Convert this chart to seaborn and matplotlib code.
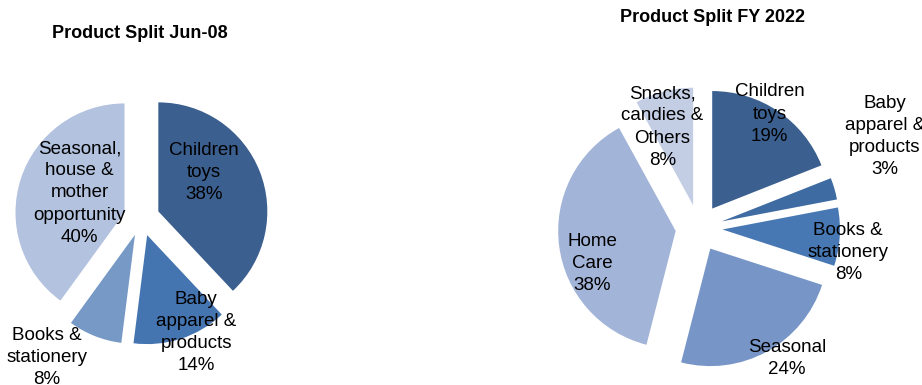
import seaborn as sns
import matplotlib.pyplot as plt

# Jun-08 split
left_cats = ['Children\ntoys', 'Baby\napparel &\nproducts', 'Books &\nstationery',
             'Seasonal,\nhouse &\nmother\nopportunity']
left_vals = [38, 14, 8, 40]
left_colors = ['#3b5f8f', '#4575b1', '#7799c6', '#b3c3df']

# FY 2022 split
right_cats = ['Children\ntoys', 'Baby\napparel &\nproducts', 'Books &\nstationery',
              'Seasonal', 'Home\nCare', 'Snacks,\ncandies &\nOthers']
right_vals = [19, 3, 8, 24, 38, 8]
right_colors = ['#3b5f8f', '#3f6ba3', '#4878b3', '#7796c7', '#a2b4d7', '#c3cde4']

# label offsets (in pie radius units) relative to pie centre
left_label_pos = [(0.57, 0.42), (0.50, -1.05), (-0.87, -1.28), (-0.57, 0.23)]
right_label_pos = [(0.60, 0.97), (1.58, 0.78), (1.27, -0.21), (0.75, -1.11),
                   (-0.91, -0.30), (-0.31, 0.86)]

sns.set_theme(style='white')
plt.rcParams['font.family'] = ['Liberation Sans', 'DejaVu Sans']
plt.rcParams['text.color'] = 'black'

fig = plt.figure(figsize=(9.22, 3.85), dpi=100)
ax = fig.add_axes([0, 0, 1, 1])


def draw_pie(cats, vals, colors, label_pos, center, radius, explode):
    labels = [f'{c}\n{v}%' for c, v in zip(cats, vals)]
    # pie's explode offset is absolute, so scale it by the radius
    wedges, texts = ax.pie(vals, colors=colors, startangle=90, counterclock=False,
                           explode=[explode * radius] * len(vals), center=center,
                           radius=radius, labels=labels, wedgeprops=dict(linewidth=0),
                           textprops=dict(ha='center', va='center', fontsize=13.5,
                                          color='black', linespacing=1.4))
    for t, (dx, dy) in zip(texts, label_pos):
        t.set_position((center[0] + dx * radius, center[1] + dy * radius))
        t.set_clip_on(False)


draw_pie(left_cats, left_vals, left_colors, left_label_pos, (141.6, 385 - 218), 109, 0.165)
draw_pie(right_cats, right_vals, right_colors, right_label_pos, (699, 385 - 228), 117.5, 0.2)

ax.text(140, 385 - 33, 'Product Split Jun-08', ha='center', va='center',
        fontsize=13, fontweight='bold', color='black')
ax.text(712, 385 - 18, 'Product Split FY 2022', ha='center', va='center',
        fontsize=13, fontweight='bold', color='black')

ax.set_xlim(0, 922)
ax.set_ylim(0, 385)
ax.set_aspect('auto')
ax.axis('off')

fig.savefig('out.png', dpi=100)
